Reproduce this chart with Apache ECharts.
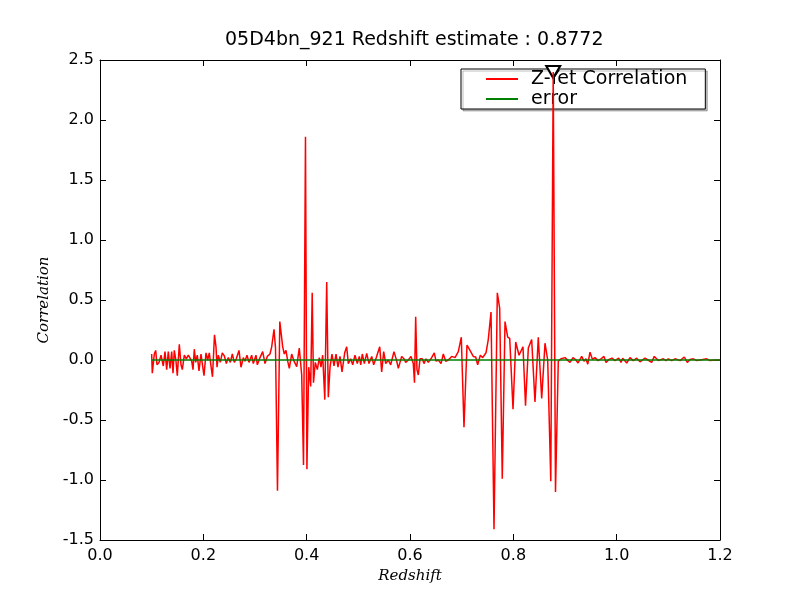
<!DOCTYPE html>
<html>
<head>
<meta charset="utf-8">
<script src="https://cdn.jsdelivr.net/npm/echarts@6/dist/echarts.min.js"></script>
<style>
  html, body { margin: 0; padding: 0; background: #fff; }
  #chart { width: 800px; height: 600px; }
</style>
</head>
<body>
<div id="chart"></div>
<script>
// redshift grid
var redshift = [
  0.1000, 0.1012, 0.1051, 0.1078, 0.1103, 0.1142, 0.1181, 0.1225, 0.1258, 0.1291,
  0.1322, 0.1355, 0.1388, 0.1413, 0.1438, 0.1471, 0.1496, 0.1535, 0.1568, 0.1593,
  0.1632, 0.1670, 0.1709, 0.1742, 0.1775, 0.1800, 0.1825, 0.1852, 0.1883, 0.1916,
  0.1955, 0.1980, 0.2013, 0.2052, 0.2085, 0.2115, 0.2148, 0.2177, 0.2216, 0.2245,
  0.2265, 0.2290, 0.2328, 0.2367, 0.2406, 0.2445, 0.2483, 0.2522, 0.2561, 0.2599,
  0.2638, 0.2690, 0.2729, 0.2774, 0.2806, 0.2845, 0.2884, 0.2936, 0.2967, 0.3019,
  0.3045, 0.3097, 0.3149, 0.3194, 0.3238, 0.3290, 0.3323, 0.3368, 0.3397, 0.3435,
  0.3480, 0.3536, 0.3567, 0.3600, 0.3633, 0.3664, 0.3710, 0.3755, 0.3807, 0.3857,
  0.3904, 0.3939, 0.3977, 0.4005, 0.4039, 0.4078, 0.4107, 0.4132, 0.4167, 0.4206,
  0.4245, 0.4277, 0.4310, 0.4351, 0.4388, 0.4419, 0.4452, 0.4490, 0.4529, 0.4568,
  0.4606, 0.4645, 0.4684, 0.4736, 0.4775, 0.4806, 0.4852, 0.4891, 0.4935, 0.4980,
  0.5019, 0.5046, 0.5077, 0.5116, 0.5162, 0.5206, 0.5259, 0.5297, 0.5348, 0.5414,
  0.5452, 0.5491, 0.5530, 0.5580, 0.5626, 0.5690, 0.5735, 0.5774, 0.5839, 0.5884,
  0.5917, 0.5967, 0.6019, 0.6064, 0.6087, 0.6110, 0.6135, 0.6161, 0.6194, 0.6238,
  0.6271, 0.6310, 0.6354, 0.6406, 0.6470, 0.6503, 0.6548, 0.6600, 0.6645, 0.6691,
  0.6741, 0.6807, 0.6871, 0.6935, 0.6993, 0.7045, 0.7103, 0.7161, 0.7225, 0.7271,
  0.7310, 0.7361, 0.7407, 0.7471, 0.7515, 0.7568, 0.7626, 0.7690, 0.7736, 0.7786,
  0.7839, 0.7891, 0.7930, 0.7994, 0.8046, 0.8110, 0.8187, 0.8236, 0.8290, 0.8355,
  0.8419, 0.8483, 0.8549, 0.8613, 0.8665, 0.8725, 0.8772, 0.8816, 0.8870, 0.8923,
  0.9000, 0.9058, 0.9097, 0.9155, 0.9213, 0.9252, 0.9323, 0.9368, 0.9406, 0.9441,
  0.9484, 0.9532, 0.9581, 0.9639, 0.9697, 0.9755, 0.9794, 0.9852, 0.9910, 0.9968,
  1.0039, 1.0084, 1.0117, 1.0194, 1.0258, 1.0322, 1.0387, 1.0452, 1.0548, 1.0606,
  1.0677, 1.0728, 1.0806, 1.0903, 1.0955, 1.0999, 1.1065, 1.1129, 1.1226, 1.1309,
  1.1367, 1.1419, 1.1484, 1.1555, 1.1613, 1.1671, 1.1742, 1.1806, 1.1903, 1.2000
];

var correlation = [
  0.05, -0.11, 0.05, 0.08, -0.04, -0.02, 0.04, -0.05, 0.07, -0.08,
  0.07, -0.07, 0.07, -0.11, 0.08, -0.01, -0.13, 0.13, -0.04, -0.08,
  0.04, 0.01, 0.04, 0.05, -0.01, -0.08, 0.09, -0.02, 0.04, -0.09,
  0.05, -0.03, -0.13, 0.06, 0.00, 0.06, -0.05, -0.14, 0.21, 0.11,
  -0.06, 0.04, -0.02, 0.06, 0.035, -0.03, 0.02, -0.02, 0.05, -0.02,
  0.01, 0.08, -0.06, 0.02, -0.01, 0.04, -0.02, 0.04, -0.03, 0.04,
  -0.04, 0.02, 0.07, -0.03, 0.03, 0.05, 0.11, 0.255, 0.10, -1.09,
  0.32, 0.11, 0.05, 0.08, -0.01, -0.07, 0.05, -0.01, -0.055, 0.10,
  -0.125, -0.875, 1.86, -0.91, -0.06, -0.22, 0.56, -0.19, -0.02, -0.08,
  0.02, -0.06, 0.04, -0.33, 0.65, -0.31, -0.06, 0.05, -0.05, 0.05,
  -0.06, 0.03, -0.10, 0.06, 0.11, -0.03, 0.01, -0.04, 0.04, -0.03,
  0.03, -0.04, 0.05, -0.03, 0.055, -0.03, 0.03, -0.04, 0.02, 0.11,
  -0.10, 0.07, -0.03, 0.00, -0.04, 0.07, 0.005, -0.07, 0.03, 0.01,
  -0.02, 0.00, 0.03, -0.03, -0.19, 0.36, -0.08, -0.125, 0.01, 0.01,
  -0.03, 0.01, -0.02, 0.01, 0.06, -0.01, 0.00, -0.03, 0.05, -0.01,
  0.00, 0.03, 0.02, 0.07, 0.19, -0.56, 0.125, 0.08, 0.03, 0.025,
  -0.04, 0.04, 0.02, 0.06, 0.17, 0.40, -1.41, 0.56, 0.43, -0.99,
  0.32, 0.19, 0.18, -0.41, 0.15, 0.04, 0.11, -0.38, 0.10, 0.17,
  -0.35, 0.19, -0.32, 0.14, 0.00, -1.01, 2.40, -1.10, -0.01, 0.01,
  0.02, -0.005, -0.02, 0.02, 0.00, -0.025, 0.03, -0.01, 0.01, -0.035,
  0.065, 0.005, 0.02, -0.005, 0.01, 0.03, -0.02, 0.005, 0.015, -0.005,
  0.015, -0.02, 0.015, -0.025, 0.02, -0.005, 0.015, -0.015, 0.015, 0.00,
  -0.02, 0.03, -0.005, 0.01, -0.005, 0.01, -0.005, 0.01, -0.005, 0.025,
  -0.02, 0.005, 0.01, -0.005, 0.00, 0.005, 0.01, -0.005, 0.00, 0.00
];

var errRedshift = [0.1, 0.4, 0.8, 1.2];
var errValues = [0, 0, 0, 0];

var bestZ = 0.8772;
var bestCorr = 2.40;

var xTicks = { min: 0, max: 1.2, interval: 0.2 };
var yTicks = { min: -1.5, max: 2.5, interval: 0.5 };

var corrData = redshift.map(function (z, i) { return [z, correlation[i]]; });
var errData = errRedshift.map(function (z, i) { return [z, errValues[i]]; });

var chart = echarts.init(document.getElementById('chart'));
var font = 'DejaVu Sans';

function axisBase(extra) {
  var o = {
    type: 'value',
    splitLine: { show: false },
    axisLine: { show: true, onZero: false, lineStyle: { color: '#000', width: 1 } },
    axisTick: { show: true, inside: true, length: 6, lineStyle: { color: '#000' } }
  };
  for (var k in extra) o[k] = extra[k];
  return o;
}

chart.setOption({
  animation: false,
  backgroundColor: '#fff',
  title: {
    text: '05D4bn_921 Redshift estimate : 0.8772',
    left: 220,
    top: 26,
    textStyle: { fontFamily: font, fontSize: 19, fontWeight: 'normal', color: '#000' }
  },
  legend: {
    orient: 'vertical',
    left: 461,
    top: 69,
    z: 3,
    padding: [0, 18, 0, 24],
    itemGap: 0,
    itemWidth: 32,
    itemHeight: 20,
    backgroundColor: '#fff',
    borderColor: '#000',
    borderWidth: 1,
    shadowColor: 'rgba(0,0,0,0.25)',
    shadowOffsetX: 2,
    shadowOffsetY: 2,
    shadowBlur: 0,
    itemStyle: { color: 'transparent', borderWidth: 0 },
    textStyle: { fontFamily: font, fontSize: 19, color: '#000', lineHeight: 20, padding: [0, 0, 0, 8] },
    data: ['Z-Yet Correlation', 'error']
  },
  grid: { left: 100, right: 80, top: 60, bottom: 60 },
  xAxis: [
    axisBase({
      position: 'bottom', min: xTicks.min, max: xTicks.max, interval: xTicks.interval,
      axisLabel: { color: '#000', fontFamily: font, fontSize: 16, margin: 8,
        formatter: function (v) { return v.toFixed(1); } },
      name: 'Redshift', nameLocation: 'middle', nameGap: 26,
      nameTextStyle: { fontFamily: 'DejaVu Serif', fontStyle: 'italic', fontSize: 15, color: '#000' }
    }),
    axisBase({
      position: 'top', min: xTicks.min, max: xTicks.max, interval: xTicks.interval,
      axisLabel: { show: false }
    })
  ],
  yAxis: [
    axisBase({
      position: 'left', min: yTicks.min, max: yTicks.max, interval: yTicks.interval,
      axisLabel: { color: '#000', fontFamily: font, fontSize: 16, margin: 6,
        formatter: function (v) { return v.toFixed(1); } },
      name: 'Correlation', nameLocation: 'middle', nameGap: 46,
      nameTextStyle: { fontFamily: 'DejaVu Serif', fontStyle: 'italic', fontSize: 15, color: '#000' }
    }),
    axisBase({
      position: 'right', min: yTicks.min, max: yTicks.max, interval: yTicks.interval,
      axisLabel: { show: false }
    })
  ],
  series: [
    {
      name: 'Z-Yet Correlation',
      type: 'line',
      z: 5,
      symbol: 'none',
      color: '#ff0000',
      lineStyle: { color: '#ff0000', width: 1.5 },
      data: corrData,
      markPoint: {
        symbol: 'triangle',
        symbolRotate: 180,
        symbolSize: [14, 12],
        itemStyle: { color: '#fff', borderColor: '#000', borderWidth: 2 },
        label: { show: false },
        data: [{ coord: [bestZ, bestCorr] }]
      }
    },
    {
      name: 'error',
      type: 'line',
      z: 6,
      symbol: 'none',
      color: '#008000',
      lineStyle: { color: '#008000', width: 1.5 },
      data: errData
    }
  ]
});
</script>
</body>
</html>
